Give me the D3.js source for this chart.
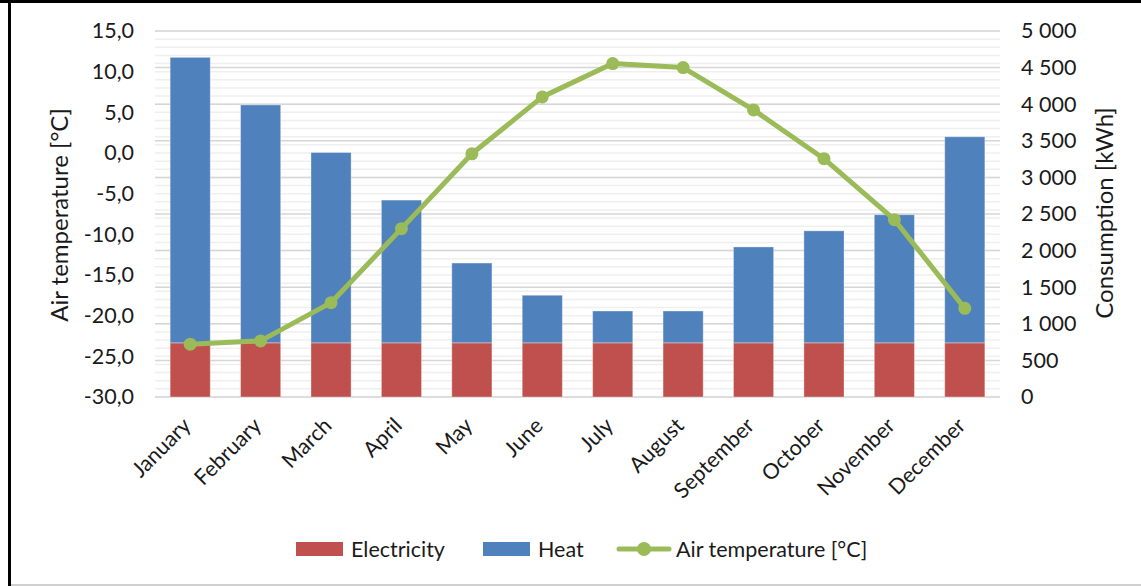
<!DOCTYPE html>
<html><head><meta charset="utf-8">
<script src="https://cdn.jsdelivr.net/npm/d3@7"></script>
<style>body{margin:0;background:#fff}svg{display:block}text{font-family:Lato,"Open Sans",sans-serif;fill:#1a1a1a}</style>
</head><body>
<svg id="c" width="1141" height="586"></svg>
<script>
const months = ["January","February","March","April","May","June","July","August","September","October","November","December"];
const electricity = [740,740,740,740,740,740,740,740,740,740,740,740];
const heat = [3900,3250,2600,1950,1090,650,435,435,1310,1530,1750,2815];
const airTemp = [-23.5,-23.1,-18.4,-9.3,-0.1,6.9,11.0,10.5,5.3,-0.7,-8.2,-19.1];
const leftTicks = [15,10,5,0,-5,-10,-15,-20,-25,-30];
const rightTicks = [0,500,1000,1500,2000,2500,3000,3500,4000,4500,5000];

const svg = d3.select("#c");
const W = 1141, H = 586;
const L = 155, R = 1000, T = 31, B = 397;

// frame
svg.append("rect").attr("x",0).attr("y",0).attr("width",W).attr("height",3).attr("fill","#000");
svg.append("rect").attr("x",8).attr("y",0).attr("width",3).attr("height",H).attr("fill","#000");
svg.append("rect").attr("x",11).attr("y",584).attr("width",W-11).attr("height",2).attr("fill","#d0d0d0");

const x = d3.scaleBand().domain(months).range([L,R]).paddingInner(0.43).paddingOuter(0.215);
const yL = d3.scaleLinear().domain([-30,15]).range([B,T]);
const yR = d3.scaleLinear().domain([0,5000]).range([B,T]);

const g = svg.append("g");
// minor gridlines (every 1 °C)
g.selectAll(".mn").data(d3.range(-30,16,1)).join("line")
  .attr("x1",L).attr("x2",R).attr("y1",d=>yL(d)).attr("y2",d=>yL(d))
  .attr("stroke","#efefef").attr("stroke-width",1.5);
// major gridlines (every 500 kWh)
g.selectAll(".mj").data(rightTicks).join("line")
  .attr("x1",L).attr("x2",R).attr("y1",d=>yR(d)).attr("y2",d=>yR(d))
  .attr("stroke","#d6d6d6").attr("stroke-width",1.5);

// stacked bars
const stackData = months.map((m,i)=>({m, e:electricity[i], h:heat[i]}));
const series = d3.stack().keys(["e","h"])(stackData);
const colors = {e:"#c0504d", h:"#4f81bd"};
series.forEach(s=>{
  svg.append("g").selectAll("rect").data(s).join("rect")
    .attr("x",d=>x(d.data.m)).attr("width",x.bandwidth())
    .attr("y",d=>yR(d[1])).attr("height",d=>yR(d[0])-yR(d[1]))
    .attr("fill",colors[s.key]).attr("stroke","rgba(255,255,255,0.35)").attr("stroke-width",1);
});

// line
const pts = months.map((m,i)=>[x(m)+x.bandwidth()/2, yL(airTemp[i])]);
svg.append("path").attr("d",d3.line()(pts)).attr("fill","none")
  .attr("stroke","#9bbb59").attr("stroke-width",5).attr("stroke-linejoin","round");
svg.append("g").selectAll("circle").data(pts).join("circle")
  .attr("cx",d=>d[0]).attr("cy",d=>d[1]).attr("r",6.5).attr("fill","#9bbb59");

const FS = 21.5;
// left axis
const fmtL = d => d.toFixed(1).replace(".",",");
const axL = svg.append("g").attr("transform",`translate(${L-21},0)`)
  .call(d3.axisLeft(yL).tickValues(leftTicks).tickFormat(fmtL).tickSize(0).tickPadding(0));
axL.select(".domain").remove();
axL.selectAll("text").attr("font-size",FS).attr("fill","#1a1a1a").attr("font-family","Lato");

// right axis
const fmtR = d => d3.format(",")(d).replace(/,/g," ");
const axR = svg.append("g").attr("transform",`translate(${R+21},0)`)
  .call(d3.axisRight(yR).tickValues(rightTicks).tickFormat(fmtR).tickSize(0).tickPadding(0));
axR.select(".domain").remove();
axR.selectAll("text").attr("font-size",FS).attr("fill","#1a1a1a").attr("font-family","Lato");

// x axis labels
const axX = svg.append("g").attr("transform",`translate(0,${B})`)
  .call(d3.axisBottom(x).tickSize(0).tickPadding(0));
axX.select(".domain").remove();
axX.selectAll("text").attr("font-size",FS).attr("fill","#1a1a1a").attr("font-family","Lato")
  .attr("text-anchor","end").attr("dy",0).attr("y",0)
  .attr("transform","translate(2,30) rotate(-45)");

// axis titles
svg.append("text").attr("transform","translate(68,215) rotate(-90)").attr("text-anchor","middle")
  .attr("font-size",24).text("Air temperature [°C]");
svg.append("text").attr("transform","translate(1113,213) rotate(-90)").attr("text-anchor","middle")
  .attr("font-size",24).text("Consumption [kWh]");

// legend
const lg = svg.append("g");
lg.append("rect").attr("x",296).attr("y",542).attr("width",47).attr("height",14).attr("fill","#c0504d");
lg.append("text").attr("x",351).attr("y",557).attr("font-size",FS).text("Electricity");
lg.append("rect").attr("x",483).attr("y",542).attr("width",47).attr("height",14).attr("fill","#4f81bd");
lg.append("text").attr("x",538).attr("y",557).attr("font-size",FS).text("Heat");
lg.append("line").attr("x1",619).attr("x2",669).attr("y1",549).attr("y2",549).attr("stroke","#9bbb59").attr("stroke-width",5).attr("stroke-linecap","round");
lg.append("circle").attr("cx",644).attr("cy",549).attr("r",7).attr("fill","#9bbb59");
lg.append("text").attr("x",676).attr("y",557).attr("font-size",FS).text("Air temperature [°C]");
</script>
</body></html>
